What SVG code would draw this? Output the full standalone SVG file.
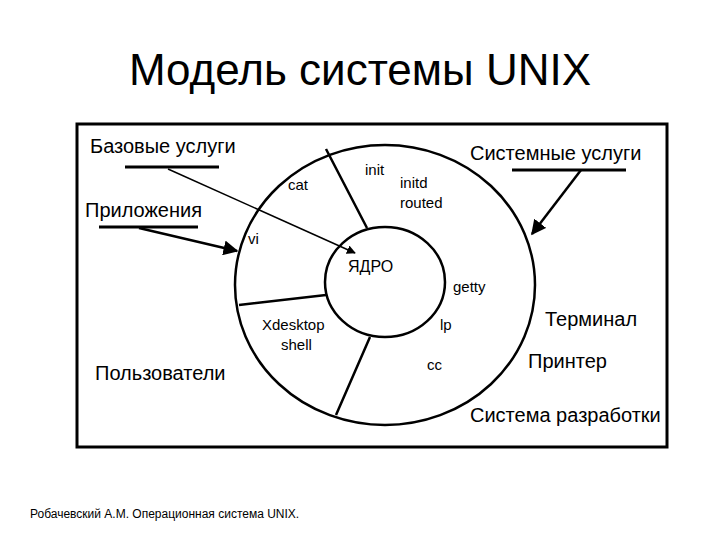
<svg xmlns="http://www.w3.org/2000/svg" width="720" height="540" viewBox="0 0 720 540">
<defs>
<style>
text{font-family:"Liberation Sans",Arial,sans-serif;fill:#000}
.l{font-size:20px}.s{font-size:15px}
.ln{stroke:#000;stroke-width:2.5;fill:none}
</style>
<marker id="a" viewBox="0 0 10 10" refX="9" refY="5" markerWidth="6" markerHeight="6" orient="auto"><path d="M0,0L10,5L0,10z" fill="#000"/></marker>
</defs>
<rect width="720" height="540" fill="#fff"/>
<text x="360" y="85" font-size="44" text-anchor="middle">Модель системы UNIX</text>
<rect x="77" y="124" width="590" height="323" fill="none" stroke="#000" stroke-width="3"/>
<g id="outer"><ellipse cx="385" cy="285" rx="150" ry="140" class="ln"/></g>
<g id="kernel"><ellipse cx="385" cy="282" rx="60" ry="55" class="ln"/><text x="348" y="272" font-size="16">ЯДРО</text></g>
<g id="dividers"><path class="ln" d="M326,149L367,228M239,305L326,295M370,337L336,415"/></g>
<g id="connectors" stroke="#000" fill="none">
<path stroke-width="3" d="M125,167H219M99,227H198M512,170H626"/>
<path stroke-width="1.5" d="M168,169L355,253" marker-end="url(#a)"/>
<path stroke-width="2.5" d="M139,228L237,251" marker-end="url(#a)"/>
<path stroke-width="2.5" d="M581,170L532,234" marker-end="url(#a)"/>
</g>
<g id="labels">
<text class="l" x="90" y="153">Базовые услуги</text>
<text class="l" x="470" y="160">Системные услуги</text>
<text class="l" x="85" y="217">Приложения</text>
<text class="l" x="95" y="380">Пользователи</text>
<text class="l" x="545" y="326">Терминал</text>
<text class="l" x="528" y="368">Принтер</text>
<text class="l" x="470" y="422">Система разработки</text>
<text class="s" x="365" y="175">init</text>
<text class="s" x="288" y="190">cat</text>
<text class="s" x="400" y="188">initd</text>
<text class="s" x="400" y="208">routed</text>
<text class="s" x="248" y="244">vi</text>
<text class="s" x="453" y="292">getty</text>
<text class="s" x="262" y="330">Xdesktop</text>
<text class="s" x="281" y="350">shell</text>
<text class="s" x="440" y="330">lp</text>
<text class="s" x="427" y="370">cc</text>
</g>
<text x="30" y="518" font-size="12">Робачевский А.М. Операционная система UNIX.</text>
</svg>
